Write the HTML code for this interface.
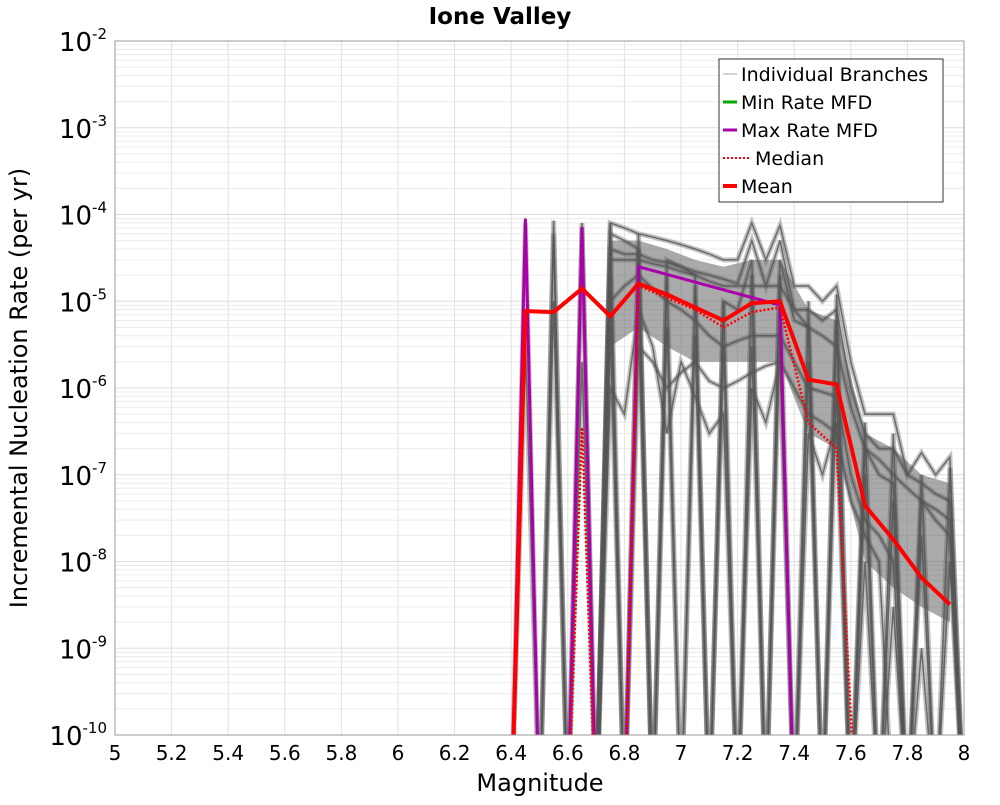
<!DOCTYPE html>
<html><head><meta charset="utf-8"><style>
body{margin:0;background:#fff;font-family:"Liberation Sans","DejaVu Sans",sans-serif}
svg text{font-family:"DejaVu Sans","Liberation Sans",sans-serif}
</style></head><body>
<svg id="chart" width="1000" height="800" viewBox="0 0 1000 800" xmlns="http://www.w3.org/2000/svg">
<rect width="1000" height="800" fill="#fff"/>
<text x="500" y="24" text-anchor="middle" font-size="23" font-weight="bold">Ione Valley</text>
<g id="grid"></g>
<g id="branches" clip-path="url(#clip)"></g>
<g id="series" clip-path="url(#clip)"></g>
<defs><clipPath id="clip"><rect x="115" y="41" width="849" height="694"/></clipPath></defs>
<rect x="115" y="41" width="849" height="694" fill="none" stroke="#999" stroke-width="1"/>
<g id="xticks"></g><g id="yticks"></g>
<text x="540" y="791" text-anchor="middle" font-size="24">Magnitude</text>
<text transform="translate(27,388) rotate(-90)" text-anchor="middle" font-size="24">Incremental Nucleation Rate (per yr)</text>
<g>
<rect x="719" y="59" width="224" height="143" fill="#fff" stroke="#333" stroke-width="1"/>
<line x1="723" y1="74" x2="737" y2="74" stroke="#aaa" stroke-width="1"/>
<text x="741" y="81" font-size="19">Individual Branches</text>
<line x1="723" y1="102" x2="737" y2="102" stroke="#0a0" stroke-width="3"/>
<text x="741" y="109" font-size="19">Min Rate MFD</text>
<line x1="723" y1="130" x2="737" y2="130" stroke="#a0a" stroke-width="3"/>
<text x="741" y="137" font-size="19">Max Rate MFD</text>
<line x1="723" y1="158" x2="750" y2="158" stroke="#f00" stroke-width="2" stroke-dasharray="2,2"/>
<text x="755" y="165" font-size="19">Median</text>
<line x1="723" y1="186" x2="737" y2="186" stroke="#f00" stroke-width="4"/>
<text x="741" y="193" font-size="19">Mean</text>
</g>
</svg>
<script>
const grid=[6.40,6.45,6.50,6.55,6.60,6.65,6.70,6.75,6.80,6.85,6.90,6.95,7.00,7.05,7.10,7.15,7.20,7.25,7.30,7.35,7.40,7.45,7.50,7.55,7.60,7.65,7.70,7.75,7.80,7.85,7.90,7.95,8.00];
const branch1=[0,8e-5,0,8.5e-5,0,8e-5,0,8e-5,0,6e-5,0,0,0,0,0,0,0,0,0,0,0,0,0,0,0,0,0,0,0,0,0,0,0];
const branch2=[0,0,0,0,0,0,0,8e-5,7e-5,6e-5,5.5e-5,5e-5,4.5e-5,4e-5,3.5e-5,3e-5,3e-5,8e-5,3e-5,7.5e-5,1.5e-5,1.5e-5,1e-5,1.5e-5,2e-6,5e-7,5e-7,5e-7,1e-7,1.8e-7,1e-7,1.6e-7,0];
const branch3=[0,0,0,0,0,0,0,3e-5,3e-5,3e-5,2.7e-5,2.5e-5,2.2e-5,2e-5,1.7e-5,1.5e-5,1.5e-5,1.5e-5,1.5e-5,1.5e-5,8e-6,5e-6,4e-6,3e-6,6e-7,2e-7,1.5e-7,1e-7,7e-8,5e-8,4e-8,3e-8,0];
const branch4=[0,0,0,0,0,0,0,1e-5,1.5e-5,2e-5,1.4e-5,1e-5,8e-6,6e-6,4e-6,3e-6,3.5e-6,4e-6,4e-6,4e-6,2e-6,1e-6,9e-7,8e-7,1e-7,3e-8,2e-8,1e-8,0,0,0,0,0];
const branch5=[0,0,0,0,0,0,0,5e-6,0,1e-5,0,5e-6,0,4e-6,0,3e-6,0,3e-6,0,5e-6,0,2e-6,0,1e-6,0,1e-7,0,5e-8,0,2e-8,0,1e-8,0];
const branch6=[0,0,0,0,0,7e-5,0,2e-5,0,4e-5,0,2e-5,0,1.5e-5,0,1e-5,0,2e-5,0,2e-5,0,1e-5,0,1.2e-5,0,4e-7,0,3e-7,0,1e-7,0,1.2e-7,0];
const branch7=[0,0,0,0,0,0,0,0,0,3e-6,2e-6,1e-6,1.5e-6,2e-6,1.2e-6,1e-6,1.2e-6,1.5e-6,1.8e-6,2e-6,1e-6,5e-7,4e-7,3e-7,5e-8,2e-8,1e-8,0,0,0,0,0,0];
const branch8=[0,0,0,0,0,0,0,6e-5,5e-5,4e-5,0,3e-5,2.5e-5,2e-5,0,1e-5,8e-6,3e-5,0,3e-5,6e-6,5e-6,0,6e-6,0,2e-7,1e-7,8e-8,0,5e-8,3e-8,2e-8,0];
const branch9=[0,3e-6,0,1e-5,0,2e-6,0,1e-6,5e-7,8e-6,3e-6,3e-7,2e-6,8e-7,3e-7,5e-7,0,1e-6,4e-7,2e-6,0,3e-7,1e-7,4e-7,0,1e-8,0,3e-9,0,1e-9,0,0,0];
const branch10=[0,0,0,6e-5,0,0,0,4e-5,3.5e-5,3.5e-5,3e-5,2.8e-5,2.5e-5,2.2e-5,2e-5,1.8e-5,1.6e-5,5e-5,1.5e-5,5e-5,8e-6,8e-6,6e-6,8e-6,1e-6,3e-7,2e-7,2e-7,1e-7,8e-8,6e-8,5e-8,0];
const branches=[branch1,branch2,branch3,branch4,branch5,branch6,branch7,branch8,branch9,branch10];
const bandMags=[6.75,6.85,6.95,7.05,7.15,7.25,7.35,7.45,7.55,7.65,7.75,7.85,7.95];
const bandHigh=[5e-5,5e-5,4e-5,3e-5,2.5e-5,3e-5,3e-5,8e-6,6e-6,3e-7,2e-7,1e-7,8e-8];
const bandLow=[3e-6,5e-6,3e-6,2e-6,2e-6,2e-6,2e-6,3e-7,2e-7,1e-8,5e-9,3e-9,2e-9];
const meanMags=[6.40,6.45,6.55,6.65,6.75,6.85,6.95,7.05,7.15,7.25,7.35,7.45,7.55,7.65,7.75,7.85,7.95];
const meanVals=[0,7.7e-6,7.5e-6,1.4e-5,6.7e-6,1.6e-5,1.2e-5,8.5e-6,6e-6,9.5e-6,1e-5,1.25e-6,1.1e-6,4.4e-8,1.8e-8,6.5e-9,3.2e-9];
const medianMags=[6.60,6.65,6.70,6.80,6.85,6.95,7.05,7.15,7.25,7.35,7.45,7.55,7.62];
const medianVals=[0,3.5e-7,0,0,1.5e-5,1.1e-5,8e-6,5e-6,7.5e-6,8.5e-6,4e-7,2e-7,0];
const maxMags=[6.40,6.45,6.50,6.60,6.65,6.70,6.80,6.85,7.35,7.40];
const maxVals=[0,9e-5,0,0,7.2e-5,0,0,2.5e-5,9e-6,0];
const xTicks=[5,5.2,5.4,5.6,5.8,6,6.2,6.4,6.6,6.8,7,7.2,7.4,7.6,7.8,8];
const yExps=[-2,-3,-4,-5,-6,-7,-8,-9,-10];

const NS='http://www.w3.org/2000/svg';
const X=m=>115+(m-5)/3*849;
const Y=v=>{const l=v>0?Math.log10(v):-11;return 41+(-2-l)*86.75;};
function mk(tag,attrs,parent){const e=document.createElementNS(NS,tag);for(const k in attrs)e.setAttribute(k,attrs[k]);parent.appendChild(e);return e;}
const g=document.getElementById('grid');
for(let d=-10;d<-2;d++){for(let k=1;k<10;k++){const y=Y(k*Math.pow(10,d));
 const ln=mk('line',{x1:115,x2:964,y1:y,y2:y,stroke:k==1?'#ddd':'#ececec','stroke-width':1},g);
 
 }}
xTicks.forEach(t=>{const ln=mk('line',{x1:X(t),x2:X(t),y1:41,y2:735,stroke:'#e2e2e2','stroke-width':1},g);
 
 });
const xt=document.getElementById('xticks');
xTicks.forEach(t=>{const tx=mk('text',{x:X(t),y:760,'text-anchor':'middle','font-size':20},xt);tx.textContent=String(t);
 
 });
const yt=document.getElementById('yticks');
yExps.forEach(e=>{const y=Y(Math.pow(10,e));const tx=mk('text',{x:107,y:y+10,'text-anchor':'end','font-size':26},yt);
 tx.innerHTML='10<tspan dy="-12" font-size="15">'+e+'</tspan>';
 
 });
const pts=(ms,vs)=>ms.map((m,i)=>X(m).toFixed(1)+','+Y(vs[i]).toFixed(1)).join(' ');
const bg=document.getElementById('branches');
const bandPts=pts(bandMags,bandHigh)+' '+pts(bandMags.slice().reverse(),bandLow.slice().reverse());
const band=mk('polygon',{points:bandPts,fill:'#555','fill-opacity':0.5,stroke:'none'},bg);


branches.forEach(b=>{
 const p=mk('polyline',{points:pts(grid,b),fill:'none',stroke:'#555','stroke-width':5,'stroke-opacity':0.35,'stroke-linejoin':'miter'},bg);
 
 
 const p2=mk('polyline',{points:pts(grid,b),fill:'none',stroke:'#555','stroke-width':1.5,'stroke-opacity':0.8},bg);
 
 
});
const sg=document.getElementById('series');
const mx=mk('polyline',{points:pts(maxMags,maxVals),fill:'none',stroke:'#a0a','stroke-width':3},sg);


const md=mk('polyline',{points:pts(medianMags,medianVals),fill:'none',stroke:'#f00','stroke-width':2.5,'stroke-dasharray':'2,2'},sg);


const mn=mk('polyline',{points:pts(meanMags,meanVals),fill:'none',stroke:'#f00','stroke-width':4},sg);


</script>
</body></html>
